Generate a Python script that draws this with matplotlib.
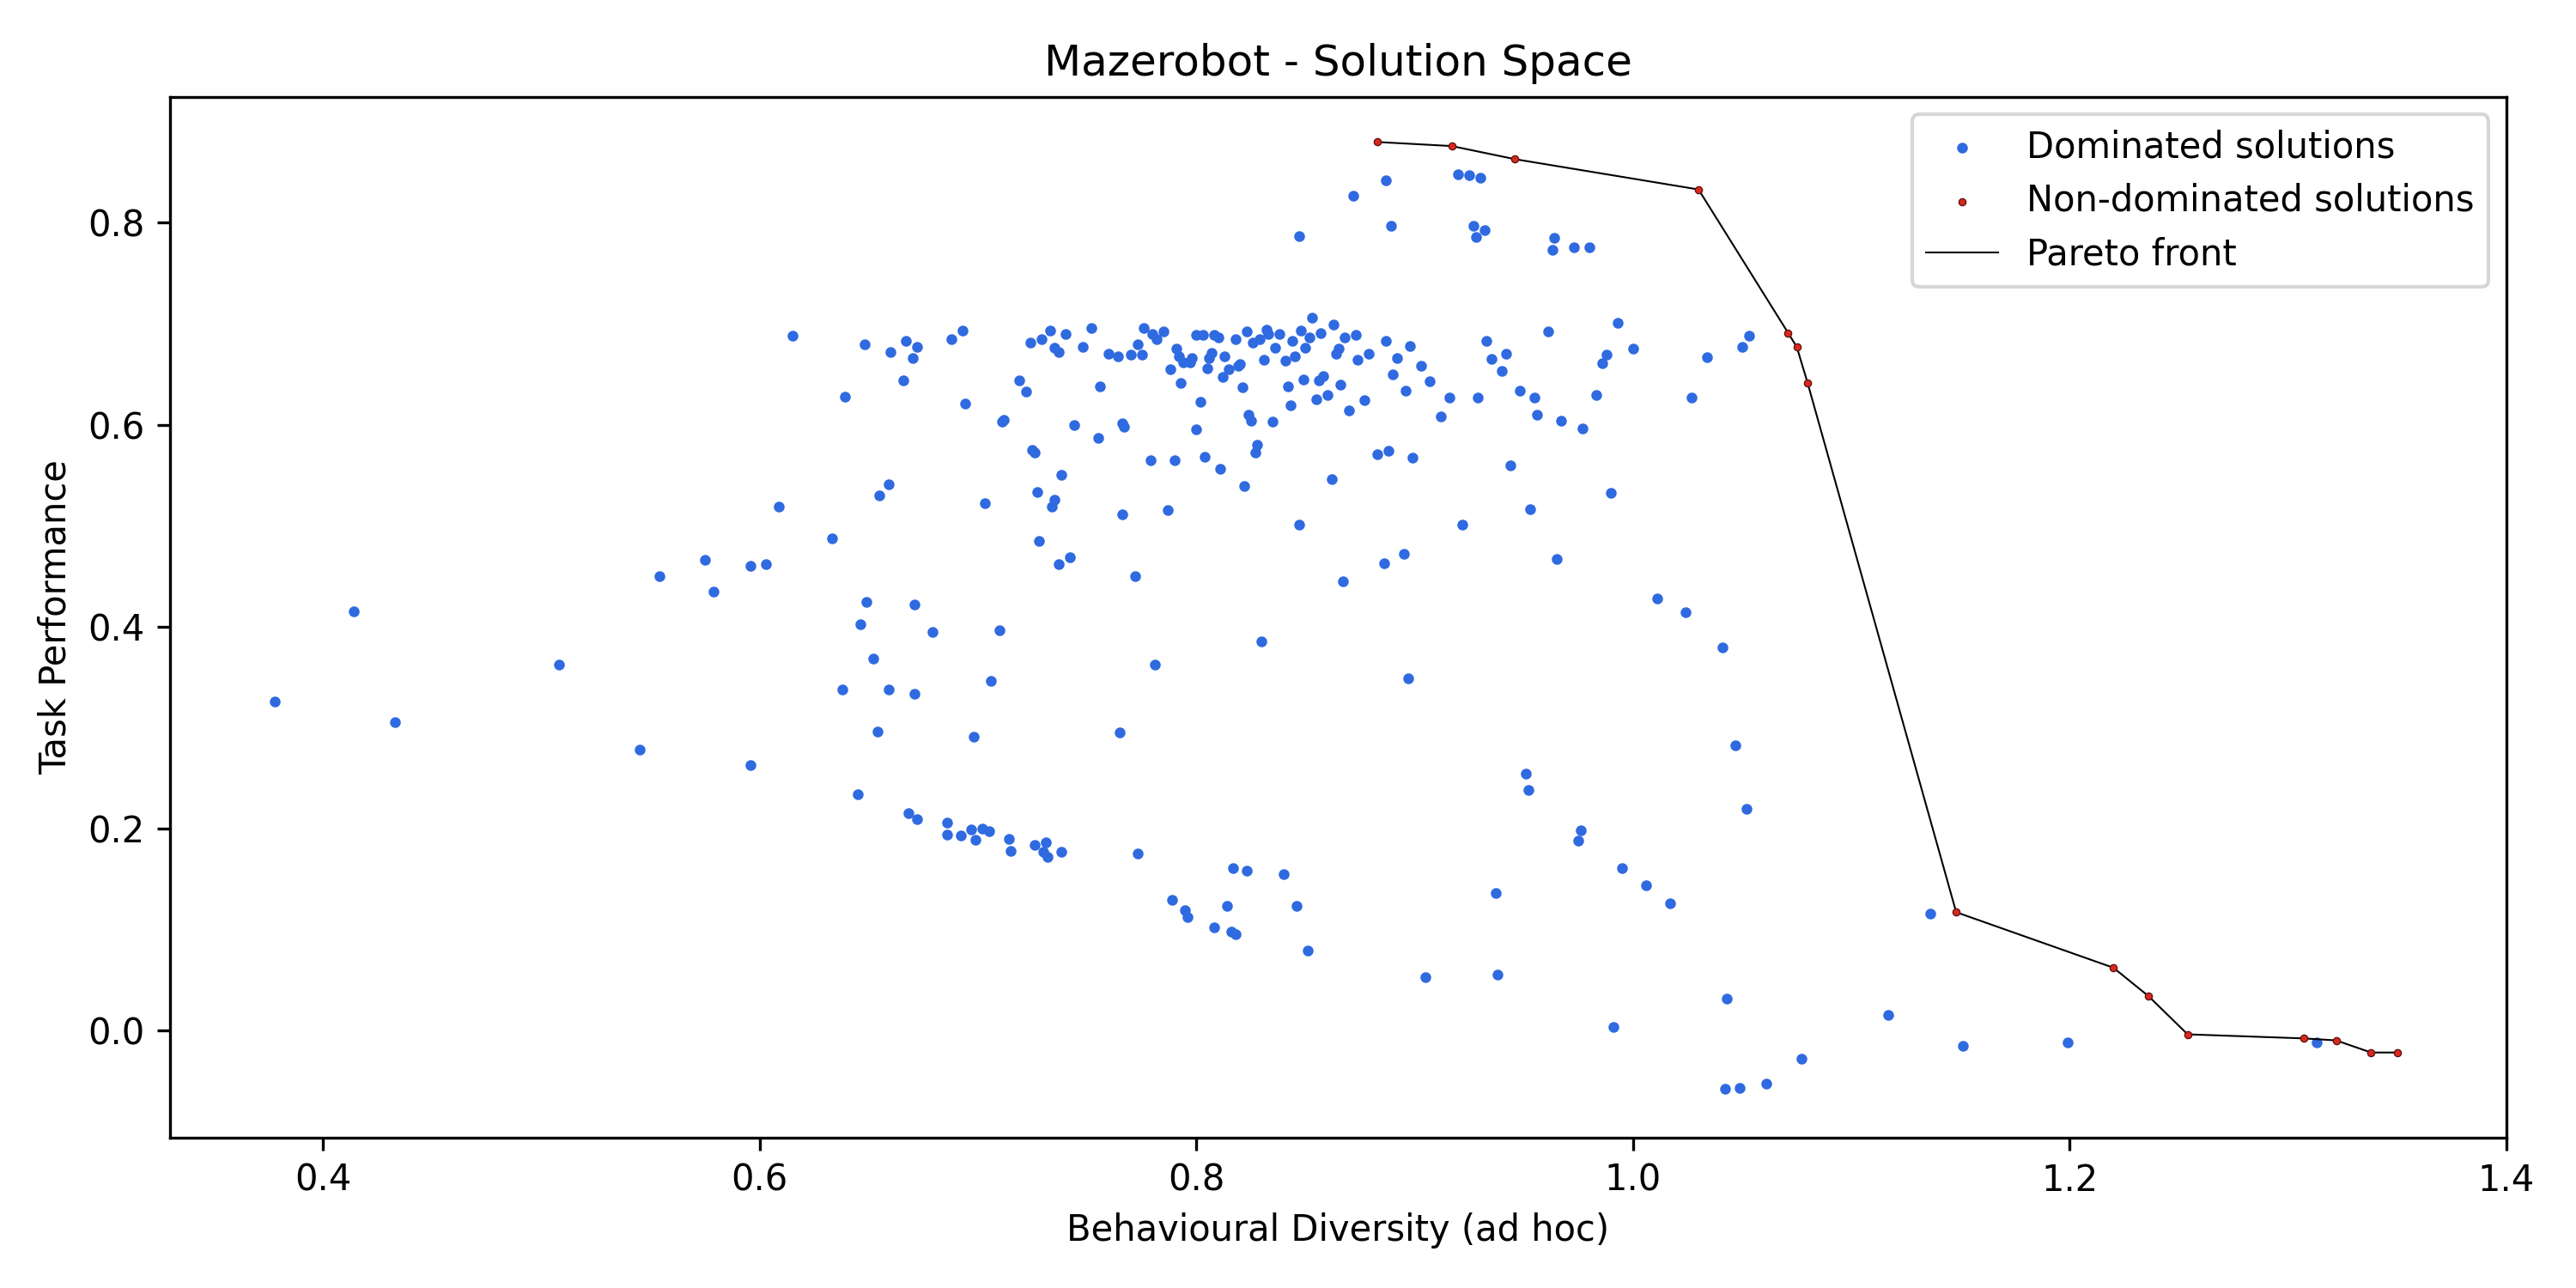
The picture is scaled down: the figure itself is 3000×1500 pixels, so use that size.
import matplotlib
matplotlib.use("Agg")
import matplotlib.pyplot as plt

# Pareto front (non-dominated solutions)
front_x = [0.883, 0.917, 0.946, 1.030, 1.071, 1.075, 1.080, 1.148, 1.220, 1.236,
           1.254, 1.307, 1.322, 1.338, 1.350]
front_y = [0.880, 0.876, 0.863, 0.833, 0.691, 0.677, 0.641, 0.117, 0.062, 0.034,
           -0.004, -0.008, -0.010, -0.022, -0.022]

# dominated solutions (diversity, performance)
dominated = [
    (0.378,0.326),(0.414,0.415),(0.433,0.305),(0.508,0.362),(0.545,0.278),(0.554,0.450),
    (0.575,0.466),(0.579,0.435),(0.596,0.460),(0.596,0.263),(0.603,0.462),(0.609,0.519),
    (0.615,0.688),(0.633,0.487),(0.639,0.628),(0.638,0.338),(0.645,0.234),(0.646,0.402),
    (0.648,0.680),(0.649,0.424),(0.652,0.368),(0.654,0.296),(0.655,0.530),(0.659,0.541),
    (0.659,0.338),(0.660,0.672),(0.666,0.644),(0.667,0.683),(0.668,0.215),(0.670,0.666),
    (0.671,0.422),(0.671,0.333),(0.672,0.677),(0.672,0.209),(0.679,0.395),(0.686,0.206),
    (0.686,0.194),(0.688,0.685),(0.692,0.193),(0.693,0.693),(0.694,0.621),(0.697,0.199),
    (0.698,0.291),(0.699,0.189),(0.702,0.200),(0.703,0.522),(0.705,0.197),(0.706,0.346),
    (0.710,0.396),(0.711,0.603),(0.712,0.605),(0.714,0.190),(0.715,0.178),(0.719,0.644),
    (0.722,0.633),(0.724,0.681),(0.725,0.575),(0.726,0.572),(0.726,0.184),(0.727,0.533),
    (0.728,0.485),(0.729,0.685),(0.730,0.177),(0.731,0.186),(0.732,0.172),(0.733,0.693),
    (0.734,0.519),(0.735,0.526),(0.735,0.676),(0.737,0.462),(0.737,0.672),(0.738,0.550),
    (0.738,0.177),(0.740,0.690),(0.742,0.469),(0.744,0.600),(0.748,0.677),(0.752,0.696),
    (0.755,0.587),(0.756,0.638),(0.760,0.670),(0.764,0.668),(0.765,0.295),(0.766,0.511),
    (0.766,0.601),(0.767,0.598),(0.770,0.669),(0.772,0.450),(0.773,0.680),(0.773,0.175),
    (0.775,0.669),(0.776,0.696),(0.779,0.565),(0.780,0.690),(0.781,0.362),(0.782,0.685),
    (0.785,0.692),(0.787,0.515),(0.788,0.655),(0.789,0.129),(0.790,0.565),(0.791,0.675),
    (0.792,0.668),(0.793,0.641),(0.794,0.662),(0.795,0.119),(0.796,0.112),(0.797,0.662),
    (0.798,0.666),(0.800,0.689),(0.800,0.595),(0.802,0.623),(0.803,0.689),(0.804,0.568),
    (0.805,0.656),(0.806,0.666),(0.807,0.671),(0.808,0.102),(0.808,0.689),(0.810,0.686),
    (0.811,0.556),(0.812,0.647),(0.813,0.668),(0.814,0.123),(0.815,0.655),(0.816,0.098),
    (0.817,0.161),(0.818,0.095),(0.818,0.685),(0.819,0.658),(0.820,0.660),(0.821,0.637),
    (0.822,0.539),(0.823,0.692),(0.823,0.158),(0.824,0.610),(0.825,0.604),(0.826,0.681),
    (0.827,0.572),(0.828,0.580),(0.829,0.685),(0.830,0.385),(0.831,0.664),(0.832,0.694),
    (0.833,0.690),(0.835,0.603),(0.836,0.676),(0.838,0.690),(0.840,0.155),(0.841,0.663),
    (0.842,0.638),(0.843,0.619),(0.844,0.683),(0.845,0.668),(0.846,0.123),(0.847,0.501),
    (0.847,0.787),(0.848,0.693),(0.849,0.645),(0.850,0.676),(0.851,0.079),(0.852,0.686),
    (0.853,0.706),(0.855,0.625),(0.856,0.644),(0.857,0.691),(0.858,0.648),(0.860,0.629),
    (0.862,0.546),(0.863,0.699),(0.864,0.670),(0.865,0.675),(0.866,0.640),(0.867,0.445),
    (0.868,0.686),(0.870,0.614),(0.872,0.827),(0.873,0.689),(0.874,0.664),(0.877,0.624),
    (0.879,0.670),(0.883,0.571),(0.886,0.463),(0.887,0.683),(0.887,0.842),(0.888,0.574),
    (0.889,0.797),(0.890,0.650),(0.892,0.666),(0.895,0.472),(0.896,0.634),(0.897,0.349),
    (0.898,0.678),(0.899,0.567),(0.903,0.658),(0.905,0.053),(0.907,0.643),(0.912,0.608),
    (0.916,0.627),(0.920,0.848),(0.922,0.501),(0.925,0.847),(0.927,0.797),(0.928,0.786),
    (0.929,0.627),(0.930,0.845),(0.932,0.793),(0.933,0.683),(0.935,0.665),(0.937,0.136),
    (0.938,0.055),(0.940,0.653),(0.942,0.670),(0.944,0.560),(0.948,0.634),(0.951,0.254),
    (0.952,0.238),(0.953,0.516),(0.955,0.627),(0.956,0.610),(0.961,0.692),(0.963,0.773),
    (0.964,0.785),(0.965,0.467),(0.967,0.604),(0.973,0.776),(0.975,0.188),(0.976,0.198),
    (0.977,0.596),(0.980,0.776),(0.983,0.629),(0.986,0.661),(0.988,0.669),(0.990,0.532),
    (0.991,0.003),(0.993,0.701),(0.995,0.161),(1.000,0.675),(1.006,0.144),(1.011,0.428),
    (1.017,0.126),(1.024,0.414),(1.027,0.627),(1.034,0.667),(1.041,0.379),(1.042,-0.058),
    (1.043,0.031),(1.047,0.282),(1.049,-0.057),(1.050,0.677),(1.052,0.219),(1.053,0.688),
    (1.061,-0.053),(1.077,-0.028),(1.117,0.015),(1.136,0.116),(1.151,-0.015),(1.199,-0.012),
    (1.313,-0.012),
]
dom_x = [p[0] for p in dominated]
dom_y = [p[1] for p in dominated]

fig = plt.figure(figsize=(10, 5), dpi=300)
ax = fig.add_axes([0.066, 0.117, 0.907, 0.808])

ax.scatter(dom_x, dom_y, s=4, color="#2f6ae0", label="Dominated solutions")
ax.scatter(front_x, front_y, s=4, color="#d8281c", edgecolors="#5a1010",
           linewidths=0.3, label="Non-dominated solutions", zorder=3)
ax.plot(front_x, front_y, color="black", lw=0.5, label="Pareto front")

ax.set_xlim(0.33, 1.4)
ax.set_ylim(-0.106, 0.925)
ax.set_title("Mazerobot - Solution Space", fontsize=12)
ax.set_xlabel("Behavioural Diversity (ad hoc)")
ax.set_ylabel("Task Performance")
ax.legend(loc="upper right")

fig.savefig("out.png")
